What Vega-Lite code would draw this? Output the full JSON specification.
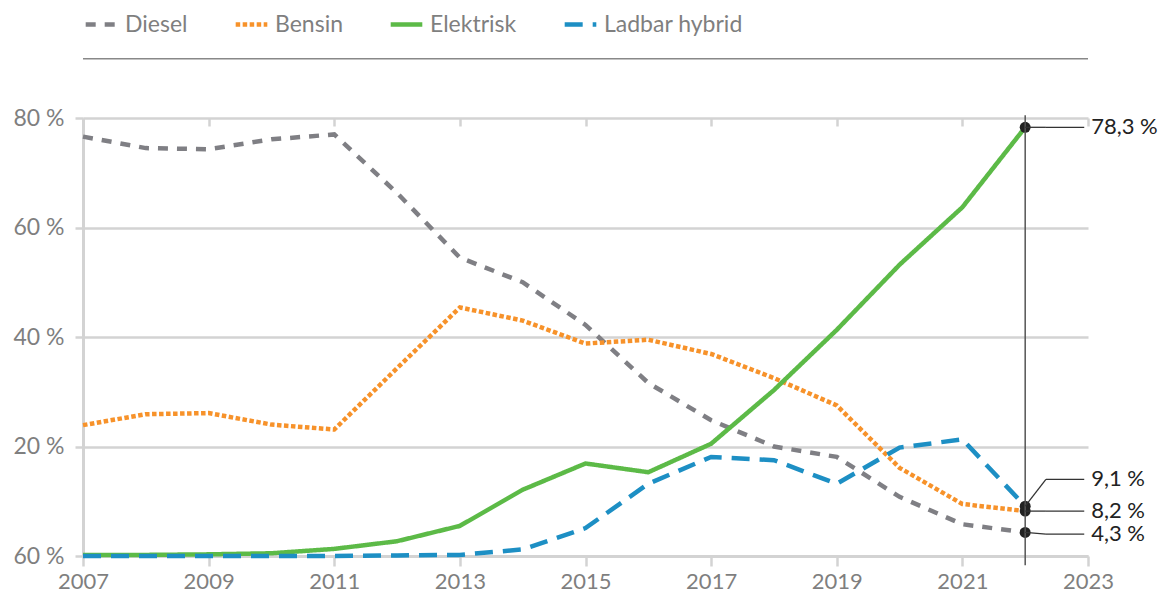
{
  "$schema": "https://vega.github.io/schema/vega-lite/v6.json",
  "width": 1005,
  "height": 438,
  "autosize": {"type": "none"},
  "padding": {"left": 83, "top": 118, "right": 78, "bottom": 43},
  "background": "white",
  "datasets": {
    "shares": [
      {"year": 2007, "series": "Diesel", "share": 76.6},
      {"year": 2008, "series": "Diesel", "share": 74.5},
      {"year": 2009, "series": "Diesel", "share": 74.3},
      {"year": 2010, "series": "Diesel", "share": 76.1},
      {"year": 2011, "series": "Diesel", "share": 77.0},
      {"year": 2012, "series": "Diesel", "share": 66.3},
      {"year": 2013, "series": "Diesel", "share": 54.5},
      {"year": 2014, "series": "Diesel", "share": 50.0},
      {"year": 2015, "series": "Diesel", "share": 42.2},
      {"year": 2016, "series": "Diesel", "share": 31.6},
      {"year": 2017, "series": "Diesel", "share": 24.8},
      {"year": 2018, "series": "Diesel", "share": 20.0},
      {"year": 2019, "series": "Diesel", "share": 18.1},
      {"year": 2020, "series": "Diesel", "share": 10.8},
      {"year": 2021, "series": "Diesel", "share": 5.8},
      {"year": 2022, "series": "Diesel", "share": 4.3},
      {"year": 2007, "series": "Bensin", "share": 23.9},
      {"year": 2008, "series": "Bensin", "share": 25.9},
      {"year": 2009, "series": "Bensin", "share": 26.1},
      {"year": 2010, "series": "Bensin", "share": 24.0},
      {"year": 2011, "series": "Bensin", "share": 23.1},
      {"year": 2012, "series": "Bensin", "share": 34.3},
      {"year": 2013, "series": "Bensin", "share": 45.4},
      {"year": 2014, "series": "Bensin", "share": 43.0},
      {"year": 2015, "series": "Bensin", "share": 38.8},
      {"year": 2016, "series": "Bensin", "share": 39.5},
      {"year": 2017, "series": "Bensin", "share": 36.9},
      {"year": 2018, "series": "Bensin", "share": 32.5},
      {"year": 2019, "series": "Bensin", "share": 27.5},
      {"year": 2020, "series": "Bensin", "share": 16.1},
      {"year": 2021, "series": "Bensin", "share": 9.5},
      {"year": 2022, "series": "Bensin", "share": 8.2},
      {"year": 2007, "series": "Elektrisk", "share": 0.2},
      {"year": 2008, "series": "Elektrisk", "share": 0.2},
      {"year": 2009, "series": "Elektrisk", "share": 0.3},
      {"year": 2010, "series": "Elektrisk", "share": 0.5},
      {"year": 2011, "series": "Elektrisk", "share": 1.3},
      {"year": 2012, "series": "Elektrisk", "share": 2.7},
      {"year": 2013, "series": "Elektrisk", "share": 5.5},
      {"year": 2014, "series": "Elektrisk", "share": 12.1},
      {"year": 2015, "series": "Elektrisk", "share": 16.9},
      {"year": 2016, "series": "Elektrisk", "share": 15.3},
      {"year": 2017, "series": "Elektrisk", "share": 20.5},
      {"year": 2018, "series": "Elektrisk", "share": 30.3},
      {"year": 2019, "series": "Elektrisk", "share": 41.3},
      {"year": 2020, "series": "Elektrisk", "share": 53.2},
      {"year": 2021, "series": "Elektrisk", "share": 63.7},
      {"year": 2022, "series": "Elektrisk", "share": 78.3},
      {"year": 2007, "series": "Ladbar hybrid", "share": 0.0},
      {"year": 2008, "series": "Ladbar hybrid", "share": 0.0},
      {"year": 2009, "series": "Ladbar hybrid", "share": 0.0},
      {"year": 2010, "series": "Ladbar hybrid", "share": 0.0},
      {"year": 2011, "series": "Ladbar hybrid", "share": 0.0},
      {"year": 2012, "series": "Ladbar hybrid", "share": 0.1},
      {"year": 2013, "series": "Ladbar hybrid", "share": 0.2},
      {"year": 2014, "series": "Ladbar hybrid", "share": 1.2},
      {"year": 2015, "series": "Ladbar hybrid", "share": 5.1},
      {"year": 2016, "series": "Ladbar hybrid", "share": 13.2},
      {"year": 2017, "series": "Ladbar hybrid", "share": 18.1},
      {"year": 2018, "series": "Ladbar hybrid", "share": 17.5},
      {"year": 2019, "series": "Ladbar hybrid", "share": 13.2},
      {"year": 2020, "series": "Ladbar hybrid", "share": 19.8},
      {"year": 2021, "series": "Ladbar hybrid", "share": 21.3},
      {"year": 2022, "series": "Ladbar hybrid", "share": 9.1}
    ],
    "annot": [
      {"text": "78,3 %", "value": 78.3, "labelAt": 78.3},
      {"text": "9,1 %", "value": 9.1, "labelAt": 14.0},
      {"text": "8,2 %", "value": 8.2, "labelAt": 8.2},
      {"text": "4,3 %", "value": 4.3, "labelAt": 4.0}
    ],
    "one": [{}]
  },
  "resolve": {"axis": {"x": "independent"}},
  "layer": [
    {
      "data": {"name": "shares"},
      "mark": {"type": "line", "strokeWidth": 4.5, "strokeCap": "butt", "strokeJoin": "miter"},
      "encoding": {
        "x": {
          "field": "year", "type": "quantitative",
          "scale": {"domain": [2007, 2023], "nice": false, "zero": false},
          "axis": {
            "values": [2007, 2009, 2011, 2013, 2015, 2017, 2019, 2021, 2023],
            "format": "d", "title": null, "grid": false,
            "domain": true, "domainColor": "#d3d3d3", "domainWidth": 3,
            "ticks": true, "tickColor": "#d3d3d3", "tickWidth": 2.5, "tickSize": 10,
            "labelFont": "Lato", "labelFontSize": 22, "labelColor": "#7f7f7f",
            "labelPadding": 5, "labelFlush": false
          }
        },
        "y": {
          "field": "share", "type": "quantitative",
          "scale": {"domain": [0, 80], "nice": false},
          "axis": {
            "values": [0, 20, 40, 60, 80],
            "labelExpr": "datum.value == 0 ? '60 %' : datum.value + ' %'",
            "title": null, "grid": true, "gridColor": "#d3d3d3", "gridWidth": 2.5,
            "domain": true, "domainColor": "#d3d3d3", "domainWidth": 3,
            "ticks": true, "tickColor": "#d3d3d3", "tickWidth": 2.5, "tickSize": 8,
            "labelFont": "Lato", "labelFontSize": 23, "labelColor": "#7f7f7f",
            "labelPadding": 11
          }
        },
        "color": {
          "field": "series", "type": "nominal",
          "scale": {
            "domain": ["Diesel", "Bensin", "Elektrisk", "Ladbar hybrid"],
            "range": ["#7f7f84", "#f7922a", "#5cba47", "#1d8fc4"]
          },
          "legend": {
            "orient": "none", "legendX": 0, "legendY": -112,
            "direction": "horizontal", "title": null,
            "symbolType": "stroke", "symbolSize": 1000, "symbolStrokeWidth": 4.5,
            "labelFont": "Lato", "labelFontSize": 23, "labelColor": "#7f7f7f",
            "labelOffset": 5, "gridAlign": "none", "columnPadding": 38, "padding": 0
          }
        },
        "strokeDash": {
          "field": "series", "type": "nominal",
          "scale": {
            "domain": ["Diesel", "Bensin", "Elektrisk", "Ladbar hybrid"],
            "range": [[10, 9], [4.5, 2.5], [1, 0], [18, 10]]
          },
          "legend": {
            "orient": "none", "legendX": 0, "legendY": -112,
            "direction": "horizontal", "title": null,
            "symbolType": "stroke", "symbolSize": 1000, "symbolStrokeWidth": 4.5,
            "labelFont": "Lato", "labelFontSize": 23, "labelColor": "#7f7f7f",
            "labelOffset": 5, "gridAlign": "none", "columnPadding": 38, "padding": 0
          }
        }
      }
    },
    {
      "data": {"name": "shares"},
      "transform": [{"filter": "datum.year == 2022"}],
      "mark": {"type": "point", "filled": true, "color": "#222222", "opacity": 1, "size": 120},
      "encoding": {
        "x": {
          "field": "year", "type": "quantitative",
          "axis": {
            "values": [2007, 2009, 2011, 2013, 2015, 2017, 2019, 2021, 2023],
            "title": null, "labels": false, "domain": false, "grid": false,
            "ticks": true, "tickColor": "#d3d3d3", "tickWidth": 2.5, "tickSize": -8
          }
        },
        "y": {"field": "share", "type": "quantitative"}
      }
    },
    {
      "data": {"name": "one"},
      "mark": {"type": "rule", "color": "#555555", "strokeWidth": 1.5},
      "encoding": {
        "x": {"datum": 2022, "type": "quantitative", "axis": null},
        "y": {"datum": 80.5, "type": "quantitative"},
        "y2": {"datum": -1.7}
      }
    },
    {
      "data": {"name": "one"},
      "mark": {"type": "rule", "color": "#888888", "strokeWidth": 1.5},
      "encoding": {
        "x": {"datum": 2007, "type": "quantitative", "axis": null},
        "x2": {"datum": 2023},
        "y": {"datum": 90.8, "type": "quantitative"}
      }
    },
    {
      "data": {"name": "annot"},
      "mark": {"type": "rule", "color": "#333333", "strokeWidth": 1.3},
      "encoding": {
        "x": {"datum": 2022, "type": "quantitative", "axis": null},
        "x2": {"datum": 2022.33},
        "y": {"field": "value", "type": "quantitative"},
        "y2": {"field": "labelAt"}
      }
    },
    {
      "data": {"name": "annot"},
      "mark": {"type": "rule", "color": "#333333", "strokeWidth": 1.3},
      "encoding": {
        "x": {"datum": 2022.33, "type": "quantitative", "axis": null},
        "x2": {"datum": 2022.94},
        "y": {"field": "labelAt", "type": "quantitative"}
      }
    },
    {
      "data": {"name": "annot"},
      "mark": {"type": "text", "align": "left", "baseline": "middle", "font": "Lato", "fontSize": 22, "color": "#222222"},
      "encoding": {
        "x": {"datum": 2023.05, "type": "quantitative", "axis": null},
        "y": {"field": "labelAt", "type": "quantitative"},
        "text": {"field": "text"}
      }
    }
  ],
  "config": {
    "view": {"stroke": null},
    "point": {"opacity": 1}
  }
}
